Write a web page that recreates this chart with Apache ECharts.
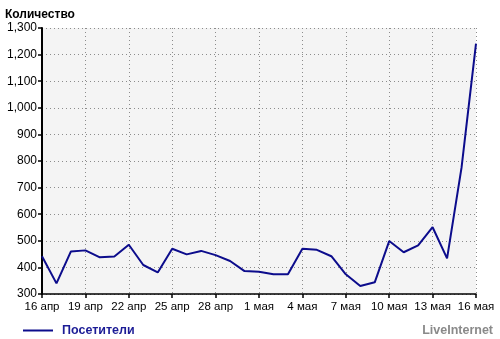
<!DOCTYPE html>
<html><head><meta charset="utf-8">
<script src="https://cdn.jsdelivr.net/npm/echarts@6/dist/echarts.min.js"></script>
<style>html,body{margin:0;padding:0;background:#fff}#c{width:500px;height:339px}</style>
</head><body><div id="c"></div>
<script>
const categories = ["16 апр","17 апр","18 апр","19 апр","20 апр","21 апр","22 апр","23 апр","24 апр","25 апр","26 апр","27 апр","28 апр","29 апр","30 апр","1 мая","2 мая","3 мая","4 мая","5 мая","6 мая","7 мая","8 мая","9 мая","10 мая","11 мая","12 мая","13 мая","14 мая","15 мая","16 мая"];
const visitors = [442,340,460,464,438,441,485,409,381,470,449,462,446,424,386,384,374,374,470,466,442,374,330,344,499,457,483,551,434,775,1241];
const seriesName = "Посетители";
const yTitle = "Количество";
const brand = "LiveInternet";

const chart = echarts.init(document.getElementById('c'));
const font = "Liberation Sans, Arial, sans-serif";
chart.setOption({
  animation:false,
  textStyle:{fontFamily:font},
  title:[
    {text:yTitle,left:0,top:4,textStyle:{fontSize:12,fontWeight:'bold',color:'#000',fontFamily:font}},
    {text:brand,right:2,top:319,textStyle:{fontSize:12.5,fontWeight:'bold',color:'#8a8a8a',fontFamily:font}}
  ],
  legend:{left:18,top:319,itemWidth:30,itemHeight:2,itemGap:6,icon:'rect',
    data:[{name:seriesName,icon:'rect'}],
    textStyle:{fontSize:12.5,fontWeight:'bold',color:'#1c1c96',fontFamily:font,padding:[0,0,0,4]}},
  grid:{left:42,right:24,top:28,bottom:45,show:true,backgroundColor:'#f4f4f4',borderWidth:0},
  xAxis:{type:'category',data:categories,boundaryGap:false,
    axisLine:{lineStyle:{color:'#000',width:1.5}},
    axisTick:{interval:2,length:4,lineStyle:{color:'#000',width:1.5}},
    axisLabel:{interval:2,color:'#000',fontSize:11.5,margin:7,fontFamily:font},
    splitLine:{show:true,interval:2,lineStyle:{color:'#8c8c8c',type:[1,3],width:1}}
  },
  yAxis:{type:'value',min:300,max:1300,interval:100,
    axisLine:{show:true,lineStyle:{color:'#000',width:2}},
    axisTick:{show:true,length:4,lineStyle:{color:'#000',width:1.5}},
    axisLabel:{color:'#000',fontSize:12,margin:5,fontFamily:font,
      formatter:v=>v.toLocaleString('en-US')},
    splitLine:{show:true,lineStyle:{color:'#8c8c8c',type:[1,3],width:1}}
  },
  series:[{name:seriesName,type:'line',data:visitors,symbol:'none',
    lineStyle:{color:'#0c0c8c',width:2},itemStyle:{color:'#0c0c8c'}}]
});
</script></body></html>
